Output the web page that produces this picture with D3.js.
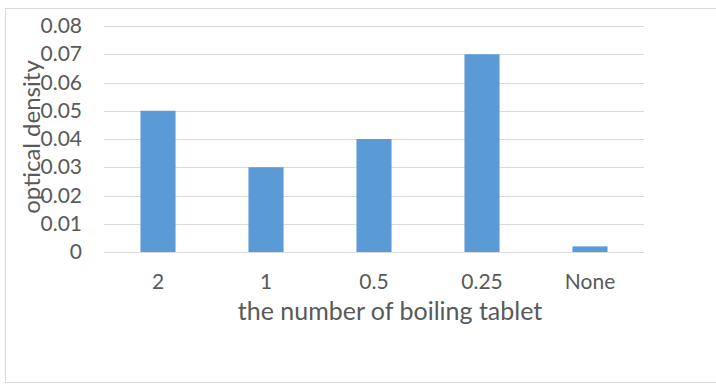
<!DOCTYPE html>
<html>
<head>
<meta charset="utf-8">
<script src="https://cdn.jsdelivr.net/npm/d3@7"></script>
<style>
  body { margin: 0; background: #fff; }
  text { font-family: Lato, "Open Sans", sans-serif; fill: #595959; }
</style>
</head>
<body>
<div id="chart"></div>
<script>
const categories = ['2', '1', '0.5', '0.25', 'None']
const values = [0.05, 0.03, 0.04, 0.07, 0.002]
const yTicks = [0, 0.01, 0.02, 0.03, 0.04, 0.05, 0.06, 0.07, 0.08]

const width = 716
const height = 385
const plot = { left: 104, right: 644, top: 26, bottom: 252 }

const svg = d3.select('#chart').append('svg')
  .attr('width', width)
  .attr('height', height)

// outer chart border
svg.append('rect')
  .attr('x', 5.5)
  .attr('y', 8.5)
  .attr('width', 720)
  .attr('height', 374)
  .attr('fill', '#fff')
  .attr('stroke', '#d9d9d9')

const xScale = d3.scaleBand()
  .domain(categories)
  .range([plot.left, plot.right])
  .paddingInner(0.675)
  .paddingOuter(0.3375)

const yScale = d3.scaleLinear()
  .domain([0, 0.08])
  .range([plot.bottom, plot.top])

// gridlines
svg.append('g')
  .selectAll('line')
  .data(yTicks)
  .join('line')
  .attr('x1', plot.left)
  .attr('x2', plot.right)
  .attr('y1', d => Math.round(yScale(d)) + 0.5)
  .attr('y2', d => Math.round(yScale(d)) + 0.5)
  .attr('stroke', '#d9d9d9')
  .attr('stroke-width', 1)

// y axis labels
const yAxis = svg.append('g')
  .attr('transform', `translate(${plot.left - 22}, 0)`)
  .call(d3.axisLeft(yScale).tickValues(yTicks).tickSize(0).tickPadding(0)
    .tickFormat(d => d === 0 ? '0' : d3.format('.2f')(d)))
yAxis.select('.domain').remove()
yAxis.selectAll('text')
  .attr('font-size', 21)
  .attr('font-family', null)
  .attr('fill', '#595959')

// bars
svg.append('g')
  .selectAll('rect')
  .data(values)
  .join('rect')
  .attr('x', (d, i) => xScale(categories[i]))
  .attr('y', d => yScale(d))
  .attr('width', xScale.bandwidth())
  .attr('height', d => yScale(0) - yScale(d))
  .attr('fill', '#5b9bd5')

// x axis labels
const xAxis = svg.append('g')
  .attr('transform', `translate(0, ${plot.bottom})`)
  .call(d3.axisBottom(xScale).tickSize(0).tickPadding(22))
xAxis.select('.domain').remove()
xAxis.selectAll('text')
  .attr('font-size', 21)
  .attr('font-family', null)
  .attr('fill', '#595959')

// axis titles
svg.append('text')
  .attr('x', 390)
  .attr('y', 320)
  .attr('text-anchor', 'middle')
  .attr('font-size', 25)
  .attr('fill', '#404040')
  .text('the number of boiling tablet')

svg.append('text')
  .attr('transform', `translate(40, 137) rotate(-90)`)
  .attr('text-anchor', 'middle')
  .attr('font-size', 24)
  .attr('fill', '#404040')
  .text('optical density')
</script>
</body>
</html>
